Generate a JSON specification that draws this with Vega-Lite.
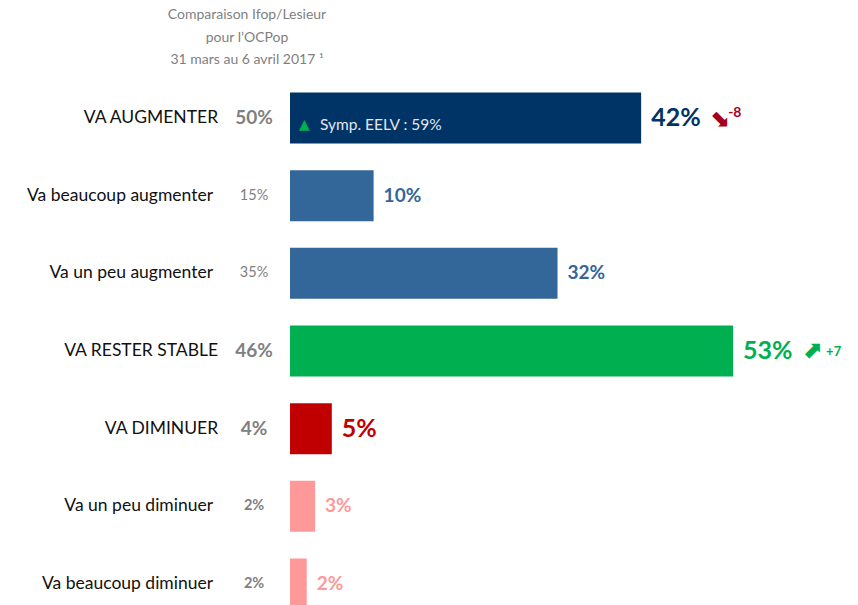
{
  "$schema": "https://vega.github.io/schema/vega-lite/v6.json",
  "width": 858,
  "height": 533,
  "autosize": {"type": "none"},
  "padding": {"left": 0, "top": 72, "right": 0, "bottom": 0},
  "background": "white",
  "title": {
    "text": ["Comparaison Ifop/Lesieur", "pour l’OCPop", "31 mars au 6 avril 2017 ¹"],
    "anchor": "middle",
    "frame": "group",
    "dx": -182,
    "offset": 5,
    "font": "Lato",
    "fontSize": 14,
    "fontWeight": "normal",
    "color": "#7f7f7f",
    "lineHeight": 22.5
  },
  "config": {"view": {"stroke": null}, "font": "Lato"},
  "data": {
    "values": [
      {"cat": "VA AUGMENTER", "level": "main", "value": 42, "old": "50%", "label": "42%", "arrow": "⬊", "change": "-8", "note": "Symp. EELV : 59%"},
      {"cat": "Va beaucoup augmenter", "level": "sub", "value": 10, "old": "15%", "label": "10%", "arrow": "", "change": "", "note": ""},
      {"cat": "Va un peu augmenter", "level": "sub", "value": 32, "old": "35%", "label": "32%", "arrow": "", "change": "", "note": ""},
      {"cat": "VA RESTER STABLE", "level": "main", "value": 53, "old": "46%", "label": "53%", "arrow": "⬈", "change": "+7", "note": ""},
      {"cat": "VA DIMINUER", "level": "main", "value": 5, "old": "4%", "label": "5%", "arrow": "", "change": "", "note": ""},
      {"cat": "Va un peu diminuer", "level": "sub", "value": 3, "old": "2%", "label": "3%", "arrow": "", "change": "", "note": ""},
      {"cat": "Va beaucoup diminuer", "level": "sub", "value": 2, "old": "2%", "label": "2%", "arrow": "", "change": "", "note": ""}
    ]
  },
  "encoding": {
    "y": {
      "field": "cat", "type": "nominal", "sort": null, "axis": null,
      "scale": {"range": [20.5, 537.5], "paddingInner": 0.343, "paddingOuter": 0}
    }
  },
  "layer": [
    {
      "mark": {"type": "bar"},
      "encoding": {
        "x": {"field": "value", "type": "quantitative", "axis": null,
              "scale": {"domain": [-34.69, 67.94], "nice": false, "zero": false}},
        "x2": {"datum": 0},
        "color": {
          "field": "cat", "type": "nominal", "legend": null,
          "scale": {
            "domain": ["VA AUGMENTER", "Va beaucoup augmenter", "Va un peu augmenter", "VA RESTER STABLE", "VA DIMINUER", "Va un peu diminuer", "Va beaucoup diminuer"],
            "range": ["#003366", "#336699", "#336699", "#00B050", "#C00000", "#FF9999", "#FF9999"]
          }
        }
      }
    },
    {
      "transform": [{"filter": "datum.level == 'main'"}],
      "mark": {"type": "text", "align": "left", "baseline": "middle", "dx": 10, "fontSize": 25, "fontWeight": "bold"},
      "encoding": {
        "x": {"field": "value", "type": "quantitative"},
        "text": {"field": "label"},
        "color": {"field": "cat", "type": "nominal", "legend": null}
      }
    },
    {
      "transform": [{"filter": "datum.level == 'sub'"}],
      "mark": {"type": "text", "align": "left", "baseline": "middle", "dx": 10, "fontSize": 19, "fontWeight": "bold"},
      "encoding": {
        "x": {"field": "value", "type": "quantitative"},
        "text": {"field": "label"},
        "color": {"field": "cat", "type": "nominal", "legend": null}
      }
    },
    {
      "transform": [{"filter": "datum.level == 'main'"}],
      "mark": {"type": "text", "align": "right", "baseline": "middle", "fontSize": 17.5, "color": "#111111"},
      "encoding": {
        "x": {"datum": -8.6, "type": "quantitative"},
        "text": {"field": "cat"}
      }
    },
    {
      "transform": [{"filter": "datum.level == 'sub'"}],
      "mark": {"type": "text", "align": "right", "baseline": "middle", "fontSize": 17.5, "color": "#111111"},
      "encoding": {
        "x": {"datum": -9.2, "type": "quantitative"},
        "text": {"field": "cat"}
      }
    },
    {
      "transform": [{"filter": "datum.level == 'main'"}],
      "mark": {"type": "text", "align": "center", "baseline": "middle", "fontSize": 19, "fontWeight": "bold", "color": "#808080"},
      "encoding": {
        "x": {"datum": -4.3, "type": "quantitative"},
        "text": {"field": "old"}
      }
    },
    {
      "transform": [{"filter": "datum.level == 'sub' && datum.value >= 10"}],
      "mark": {"type": "text", "align": "center", "baseline": "middle", "fontSize": 14.5, "color": "#808080"},
      "encoding": {
        "x": {"datum": -4.3, "type": "quantitative"},
        "text": {"field": "old"}
      }
    },
    {
      "transform": [{"filter": "datum.level == 'sub' && datum.value < 10"}],
      "mark": {"type": "text", "align": "center", "baseline": "middle", "fontSize": 14.5, "fontWeight": "bold", "color": "#808080"},
      "encoding": {
        "x": {"datum": -4.3, "type": "quantitative"},
        "text": {"field": "old"}
      }
    },
    {
      "transform": [{"filter": "datum.change == '-8'"}],
      "mark": {"type": "text", "align": "left", "baseline": "middle", "dx": 68, "dy": 1, "fontSize": 24, "fontWeight": "bold", "font": "DejaVu Sans", "color": "#A50021"},
      "encoding": {
        "x": {"field": "value", "type": "quantitative"},
        "text": {"field": "arrow"}
      }
    },
    {
      "transform": [{"filter": "datum.change == '-8'"}],
      "mark": {"type": "text", "align": "left", "baseline": "middle", "dx": 87, "dy": -5, "fontSize": 14, "fontWeight": "bold", "color": "#A50021"},
      "encoding": {
        "x": {"field": "value", "type": "quantitative"},
        "text": {"field": "change"}
      }
    },
    {
      "transform": [{"filter": "datum.change == '+7'"}],
      "mark": {"type": "text", "align": "left", "baseline": "middle", "dx": 69, "fontSize": 24, "fontWeight": "bold", "font": "DejaVu Sans", "color": "#00B050"},
      "encoding": {
        "x": {"field": "value", "type": "quantitative"},
        "text": {"field": "arrow"}
      }
    },
    {
      "transform": [{"filter": "datum.change == '+7'"}],
      "mark": {"type": "text", "align": "left", "baseline": "middle", "dx": 93, "dy": 1, "fontSize": 13, "fontWeight": "bold", "color": "#00B050"},
      "encoding": {
        "x": {"field": "value", "type": "quantitative"},
        "text": {"field": "change"}
      }
    },
    {
      "transform": [{"filter": "datum.note != ''"}],
      "mark": {"type": "text", "align": "left", "baseline": "middle", "dx": 9, "dy": 7, "fontSize": 14, "font": "DejaVu Sans", "color": "#00B050"},
      "encoding": {
        "x": {"datum": 0, "type": "quantitative"},
        "text": {"value": "▲"}
      }
    },
    {
      "transform": [{"filter": "datum.note != ''"}],
      "mark": {"type": "text", "align": "left", "baseline": "middle", "dx": 30, "dy": 7, "fontSize": 15.5, "color": "#E6E6EE"},
      "encoding": {
        "x": {"datum": 0, "type": "quantitative"},
        "text": {"field": "note"}
      }
    }
  ]
}
